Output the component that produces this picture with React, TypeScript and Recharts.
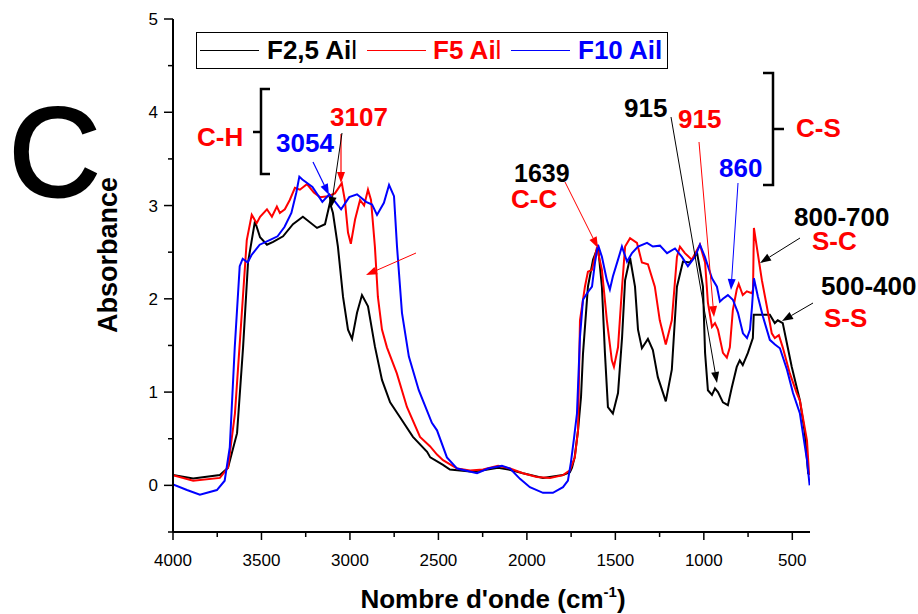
import React from 'react';
import { LineChart, Line, XAxis, YAxis, Legend } from 'recharts';

// wavenumbers (cm-1) and absorbance
const f25Wave = [4000, 3886, 3735, 3689, 3638, 3604, 3576, 3537, 3508, 3469, 3434, 3378, 3322, 3266, 3186, 3141, 3113, 3096, 3068, 3039, 3011, 2988, 2960, 2932, 2898, 2859, 2819, 2773, 2717, 2644, 2564, 2546, 2474, 2435, 2321, 2256, 2163, 2104, 2022, 1909, 1796, 1757, 1745, 1730, 1711, 1694, 1683, 1655, 1626, 1598, 1576, 1559, 1542, 1514, 1485, 1462, 1445, 1417, 1389, 1372, 1350, 1316, 1288, 1260, 1215, 1181, 1152, 1118, 1079, 1038, 1005, 993, 977, 954, 937, 920, 892, 864, 842, 814, 797, 780, 751, 723, 718, 627, 599, 582, 554, 526, 503, 457, 429, 410];
const f25Abs = [0.11, 0.075, 0.11, 0.19, 0.56, 1.48, 2.39, 2.83, 2.66, 2.58, 2.61, 2.67, 2.8, 2.88, 2.76, 2.8, 3.03, 2.92, 2.56, 2.02, 1.67, 1.57, 1.85, 2.04, 1.92, 1.49, 1.13, 0.89, 0.73, 0.52, 0.36, 0.3, 0.22, 0.17, 0.15, 0.16, 0.19, 0.17, 0.13, 0.08, 0.11, 0.14, 0.19, 0.3, 0.59, 0.95, 1.41, 2.13, 2.42, 2.56, 2.13, 1.42, 0.84, 0.77, 0.99, 1.59, 2.2, 2.44, 2.13, 1.67, 1.47, 1.57, 1.45, 1.16, 0.9, 1.24, 2.13, 2.4, 2.39, 2.49, 2.13, 1.42, 1.02, 0.97, 1.04, 1.0, 0.89, 0.86, 1.05, 1.27, 1.34, 1.29, 1.42, 1.58, 1.83, 1.83, 1.74, 1.77, 1.74, 1.48, 1.27, 0.91, 0.56, 0.12];

const f5Wave = [4000, 3886, 3735, 3689, 3650, 3611, 3583, 3555, 3527, 3508, 3469, 3441, 3413, 3396, 3368, 3340, 3311, 3283, 3243, 3204, 3169, 3124, 3085, 3046, 3029, 3011, 2995, 2971, 2943, 2920, 2898, 2881, 2859, 2842, 2819, 2791, 2735, 2678, 2604, 2548, 2508, 2474, 2394, 2321, 2248, 2163, 2095, 2022, 1944, 1869, 1796, 1757, 1729, 1711, 1700, 1672, 1655, 1632, 1604, 1576, 1548, 1520, 1508, 1485, 1462, 1445, 1417, 1378, 1350, 1316, 1277, 1249, 1215, 1181, 1152, 1135, 1107, 1068, 1022, 993, 977, 954, 937, 920, 892, 870, 853, 836, 814, 803, 780, 757, 729, 722, 717, 701, 672, 644, 616, 599, 576, 554, 514, 475, 457, 417, 405];
const f5Abs = [0.11, 0.05, 0.08, 0.19, 0.77, 1.85, 2.63, 2.9, 2.81, 2.88, 2.96, 2.88, 2.99, 2.92, 2.96, 3.06, 3.19, 3.17, 3.23, 3.14, 3.09, 3.1, 3.13, 3.24, 3.06, 2.71, 2.59, 2.85, 3.06, 3.0, 3.17, 3.06, 2.56, 2.02, 1.67, 1.48, 1.2, 0.84, 0.52, 0.42, 0.33, 0.27, 0.18, 0.16, 0.17, 0.21, 0.18, 0.13, 0.09, 0.08, 0.11, 0.16, 0.3, 0.59, 1.77, 2.13, 2.29, 2.31, 2.55, 2.31, 1.77, 1.34, 1.27, 1.48, 2.13, 2.56, 2.65, 2.6, 2.39, 2.37, 2.13, 1.77, 1.51, 1.77, 2.45, 2.56, 2.49, 2.42, 2.58, 2.39, 1.96, 1.7, 1.74, 1.67, 1.42, 1.37, 1.48, 1.88, 2.1, 2.16, 2.04, 2.08, 2.06, 2.1, 2.76, 2.56, 2.2, 1.92, 1.63, 1.58, 1.61, 1.48, 1.2, 0.99, 0.91, 0.48, 0.11];

const f10Wave = [4000, 3921, 3848, 3752, 3708, 3679, 3651, 3623, 3606, 3578, 3556, 3510, 3454, 3409, 3370, 3331, 3303, 3286, 3269, 3212, 3156, 3117, 3050, 3004, 2960, 2909, 2875, 2847, 2808, 2779, 2751, 2734, 2706, 2667, 2611, 2537, 2508, 2452, 2394, 2282, 2220, 2141, 2095, 2039, 1983, 1909, 1853, 1796, 1768, 1751, 1734, 1717, 1700, 1683, 1660, 1632, 1615, 1598, 1576, 1548, 1531, 1514, 1485, 1463, 1434, 1406, 1372, 1321, 1288, 1248, 1208, 1163, 1124, 1090, 1050, 1022, 994, 954, 926, 909, 892, 864, 836, 807, 779, 756, 739, 728, 717, 694, 666, 627, 598, 570, 530, 496, 457, 417, 402];
const f10Abs = [0.01, -0.05, -0.1, -0.05, 0.05, 0.41, 1.48, 2.35, 2.43, 2.39, 2.47, 2.58, 2.63, 2.67, 2.77, 2.92, 3.14, 3.31, 3.28, 3.2, 3.04, 3.12, 2.96, 3.09, 3.12, 3.04, 3.01, 2.9, 3.03, 3.22, 3.1, 2.56, 1.85, 1.38, 1.02, 0.67, 0.59, 0.3, 0.18, 0.13, 0.18, 0.21, 0.18, 0.07, -0.02, -0.08, -0.08, -0.02, 0.05, 0.25, 0.5, 0.77, 1.59, 1.99, 2.06, 2.13, 2.39, 2.58, 2.45, 2.2, 2.1, 2.24, 2.42, 2.56, 2.4, 2.49, 2.56, 2.6, 2.56, 2.57, 2.49, 2.54, 2.45, 2.35, 2.45, 2.58, 2.45, 2.22, 2.13, 1.97, 2.0, 2.04, 1.99, 1.85, 1.63, 1.58, 1.67, 1.91, 2.22, 2.02, 1.81, 1.56, 1.51, 1.47, 1.24, 0.99, 0.77, 0.27, 0.0];

const xTicks = [4000, 3750, 3500, 3250, 3000, 2750, 2500, 2250, 2000, 1750, 1500, 1250, 1000, 750, 500];
const yTicks = [-0.5, 0, 0.5, 1, 1.5, 2, 2.5, 3, 3.5, 4, 4.5, 5];

const FONT = '"Liberation Sans", Arial, sans-serif';

const toPoints = (w: number[], a: number[]) => w.map((x, i) => ({ x, y: a[i] }));

const series = [
  { name: 'F2,5 Ail', color: '#000000', data: toPoints(f25Wave, f25Abs) },
  { name: 'F5 Ail', color: '#ff0000', data: toPoints(f5Wave, f5Abs) },
  { name: 'F10 Ail', color: '#0000ff', data: toPoints(f10Wave, f10Abs) },
];

const XTick = (props: any) => {
  const { x, y, payload } = props;
  const major = payload.value % 500 === 0;
  return (
    <g>
      <line x1={x} y1={y} x2={x} y2={y + (major ? 8 : 5)} stroke="#000" strokeWidth={1.5} />
      {major && (
        <text x={x} y={y + 34} textAnchor="middle" fontSize={17} fontFamily={FONT} fill="#000">
          {payload.value}
        </text>
      )}
    </g>
  );
};

const YTick = (props: any) => {
  const { x, y, payload } = props;
  const major = Number.isInteger(payload.value);
  return (
    <g>
      <line x1={x} y1={y} x2={x - (major ? 9 : 5)} y2={y} stroke="#000" strokeWidth={1.5} />
      {major && (
        <text x={x - 15} y={y + 6} textAnchor="end" fontSize={17} fontFamily={FONT} fill="#000">
          {payload.value}
        </text>
      )}
    </g>
  );
};

const LegendBox = () => {
  const item = (left: number, textLeft: number, color: string, bold: string, rest: string, restBold: boolean) => (
    <>
      <div style={{ position: 'absolute', left, top: 17, width: 59, height: 0, borderTop: `1.5px solid ${color}` }} />
      <div style={{ position: 'absolute', left: textLeft, top: 3, color, fontSize: 26, lineHeight: '28px', whiteSpace: 'nowrap' }}>
        <span style={{ fontWeight: 'bold' }}>{bold}</span>
        <span style={{ fontWeight: restBold ? 'bold' : 'normal' }}>{rest}</span>
      </div>
    </>
  );
  return (
    <div style={{ position: 'relative', width: 472, height: 37, border: '1.5px solid #000', boxSizing: 'border-box', fontFamily: FONT, background: '#fff' }}>
      {item(3, 70, '#000000', 'F2,5 Ai', 'l', false)}
      {item(170, 236, '#ff0000', 'F5 Ai', 'l', false)}
      {item(314, 381, '#0000ff', 'F10 Ail', '', true)}
    </div>
  );
};

const Arrow = ({ x1, y1, x2, y2, color, w = 1.2 }: { x1: number; y1: number; x2: number; y2: number; color: string; w?: number }) => {
  const a = Math.atan2(y2 - y1, x2 - x1);
  const L = 11;
  const hw = 4;
  const bx = x2 - L * Math.cos(a);
  const by = y2 - L * Math.sin(a);
  const px = -Math.sin(a) * hw;
  const py = Math.cos(a) * hw;
  return (
    <g>
      <line x1={x1} y1={y1} x2={bx} y2={by} stroke={color} strokeWidth={w} />
      <polygon points={`${x2},${y2} ${bx + px},${by + py} ${bx - px},${by - py}`} fill={color} />
    </g>
  );
};

const Annotations = () => (
  <svg width={918} height={614} style={{ position: 'absolute', left: 0, top: 0, pointerEvents: 'none' }} fontFamily={FONT} fontWeight="bold">
    <text x={9} y={196} fontSize={126} fontWeight="normal" fill="#000" stroke="#000" strokeWidth={3}>C</text>
    <text transform="translate(117,255) rotate(-90)" textAnchor="middle" fontSize={27} fill="#000">Absorbance</text>
    <text x={493} y={608} textAnchor="middle" fontSize={26} fill="#000">
      Nombre d'onde (cm<tspan dy={-11} fontSize={15}>-1</tspan><tspan dy={11}>)</tspan>
    </text>

    {/* C-H bracket */}
    <path d="M270,89 H261 V174 H270 M261,132 H253" stroke="#000" strokeWidth={2.5} fill="none" />
    <text x={197} y={146} fontSize={26} fill="#ff0000">C-H</text>
    <text x={276} y={152} fontSize={26} fill="#0000ff">3054</text>
    <text x={330} y={126} fontSize={26} fill="#ff0000">3107</text>
    <Arrow x1={313} y1={162} x2={329} y2={195} color="#0000ff" />
    <Arrow x1={341} y1={134} x2={341} y2={183} color="#ff0000" />
    <Arrow x1={342} y1={133} x2={331} y2={208} color="#000000" w={1} />
    <Arrow x1={416} y1={253} x2={366} y2={275} color="#ff0000" w={1} />

    <text x={514} y={182} fontSize={25} fill="#000">1639</text>
    <text x={511} y={208} fontSize={26} fill="#ff0000">C-C</text>
    <Arrow x1={565} y1={182} x2={598} y2={248} color="#ff0000" w={1} />

    <text x={624} y={117} fontSize={26} fill="#000">915</text>
    <text x={678} y={128} fontSize={26} fill="#ff0000">915</text>
    <text x={719} y={177} fontSize={26} fill="#0000ff">860</text>
    <Arrow x1={671} y1={117} x2={717} y2={383} color="#000000" w={1} />
    <Arrow x1={699} y1={142} x2={714} y2={317} color="#ff0000" w={1} />
    <Arrow x1={738} y1={183} x2={731} y2={290} color="#0000ff" w={1} />

    {/* C-S bracket */}
    <path d="M763,73 H773 V185 H763 M773,129 H784" stroke="#000" strokeWidth={2.5} fill="none" />
    <text x={796} y={137} fontSize={26} fill="#ff0000">C-S</text>

    <text x={794} y={226} fontSize={26} fill="#000">800-700</text>
    <text x={812} y={250} fontSize={26} fill="#ff0000">S-C</text>
    <Arrow x1={800} y1={238} x2={760} y2={263} color="#000000" w={1} />

    <text x={821} y={295} fontSize={26} fill="#000">500-400</text>
    <text x={824} y={327} fontSize={26} fill="#ff0000">S-S</text>
    <Arrow x1={813} y1={303} x2={782} y2={321} color="#000000" w={1} />
  </svg>
);

export default function App() {
  return (
    <div style={{ position: 'absolute', left: 0, top: 0, width: 918, height: 614, background: '#fff', fontFamily: FONT }}>
      <LineChart width={918} height={614} margin={{ top: 19, right: 108, bottom: 32, left: 113 }}>
        <XAxis
          type="number"
          dataKey="x"
          domain={[400, 4000]}
          reversed
          allowDataOverflow
          ticks={xTicks}
          interval={0}
          tick={<XTick />}
          tickLine={false}
          tickSize={0}
          tickMargin={0}
          height={50}
          axisLine={{ stroke: '#000', strokeWidth: 2 }}
        />
        <YAxis
          type="number"
          domain={[-0.5, 5]}
          allowDataOverflow
          ticks={yTicks}
          interval={0}
          tick={<YTick />}
          tickLine={false}
          tickSize={0}
          tickMargin={0}
          width={60}
          axisLine={{ stroke: '#000', strokeWidth: 2 }}
        />
        <Legend
          layout="horizontal"
          verticalAlign="middle"
          align="center"
          content={<LegendBox />}
          wrapperStyle={{ left: 196, top: 32, width: 472, height: 37 }}
        />
        {series.map((s) => (
          <Line
            key={s.name}
            name={s.name}
            data={s.data}
            dataKey="y"
            type="linear"
            stroke={s.color}
            strokeWidth={2}
            dot={false}
            isAnimationActive={false}
          />
        ))}
      </LineChart>
      <Annotations />
    </div>
  );
}
